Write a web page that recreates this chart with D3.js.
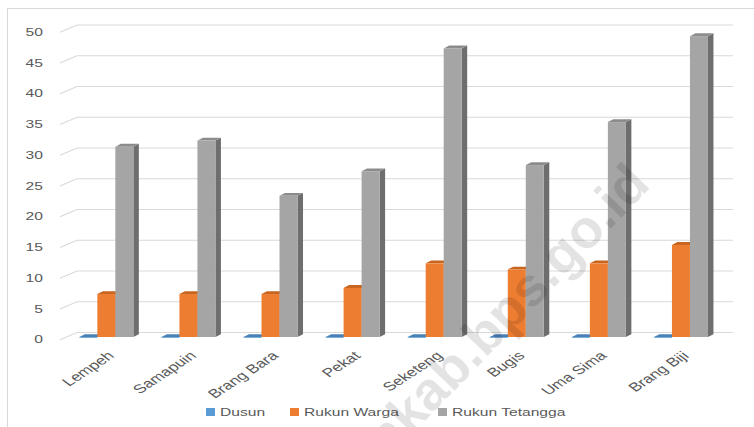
<!DOCTYPE html>
<html>
<head>
<meta charset="utf-8">
<script src="https://cdn.jsdelivr.net/npm/d3@7"></script>
<style>
  html, body { margin: 0; padding: 0; background: #fff; }
  svg { display: block; }
  text { font-family: "Liberation Sans", Arial, sans-serif; }
</style>
</head>
<body>
<svg id="chart" width="754" height="427"></svg>
<script>
// ---- data ----
const categories = ["Lempeh", "Samapuin", "Brang Bara", "Pekat", "Seketeng", "Bugis", "Uma Sima", "Brang Biji"];
const seriesNames = ["Dusun", "Rukun Warga", "Rukun Tetangga"];
const dusun = [0, 0, 0, 0, 0, 0, 0, 0];
const rukunWarga = [7, 7, 7, 8, 12, 11, 12, 15];
const rukunTetangga = [31, 32, 23, 27, 47, 28, 35, 49];
const yTicks = [0, 5, 10, 15, 20, 25, 30, 35, 40, 45, 50];

const seriesValues = [dusun, rukunWarga, rukunTetangga];
const colors = {
  "Dusun": { front: "#5B9BD5", side: "#3F6E99", top: "#4A80B8" },
  "Rukun Warga": { front: "#ED7D31", side: "#A9581F", top: "#C8651F" },
  "Rukun Tetangga": { front: "#A5A5A5", side: "#6E6E6E", top: "#8C8C8C" }
};

const svg = d3.select("#chart");
const SX = 1.42; // horizontal text stretch of the original picture

// border
svg.append("rect").attr("x", 7.5).attr("y", 8.5).attr("width", 780).attr("height", 440)
  .attr("fill", "none").attr("stroke", "#d9d9d9");

// scales
const yBack = d3.scaleLinear().domain([0, 50]).range([332.5, 25]);
const yFront = d3.scaleLinear().domain([0, 50]).range([337, 30]);
const x = d3.scaleBand().domain(categories).range([65.3, 722]).padding(0);
const xs = d3.scaleBand().domain(seriesNames).range([0, 54]).padding(0);
const depthX = 5.5, depthY = 2.8, diagX = 17, diagY = 7.3;

// gridlines (back wall + side wall slant)
const grid = svg.append("g");
yTicks.forEach(v => {
  const y = yBack(v);
  grid.append("path")
    .attr("d", `M60,${y + diagY}L${60 + diagX},${y}L733,${y}`)
    .attr("fill", "none").attr("stroke", "#d9d9d9").attr("stroke-width", 1.2);
  grid.append("text")
    .attr("transform", `translate(43,${y + diagY}) scale(${SX},1)`)
    .attr("text-anchor", "end").attr("dominant-baseline", "central")
    .attr("font-size", 11).attr("fill", "#595959")
    .text(v);
});

// bars
const bars = svg.append("g");
categories.forEach((c, ci) => {
  seriesNames.forEach((s, si) => {
    const v = seriesValues[si][ci];
    const w = xs.bandwidth();
    const x0 = x(c) + (x.bandwidth() - 54) / 2 + xs(s);
    const top = yFront(v), base = yFront(0);
    const col = colors[s];
    bars.append("path")
      .attr("d", `M${x0 + w},${top}L${x0 + w + depthX},${top - depthY}L${x0 + w + depthX},${base - depthY}L${x0 + w},${base}Z`)
      .attr("fill", col.side);
    bars.append("path")
      .attr("d", `M${x0},${top}L${x0 + depthX},${top - depthY}L${x0 + w + depthX},${top - depthY}L${x0 + w},${top}Z`)
      .attr("fill", col.top);
    bars.append("rect")
      .attr("x", x0).attr("y", top).attr("width", w).attr("height", Math.max(base - top, 0.8))
      .attr("fill", col.front);
  });
});

// category labels
categories.forEach(c => {
  const cx = x(c) + x.bandwidth() / 2;
  svg.append("text")
    .attr("transform", `translate(${cx},350) scale(${SX},1) rotate(-43)`)
    .attr("text-anchor", "end").attr("dominant-baseline", "hanging")
    .attr("font-size", 12.3).attr("fill", "#595959")
    .text(c);
});

// legend
const legendX = [206, 290, 438];
seriesNames.forEach((s, i) => {
  svg.append("rect").attr("x", legendX[i]).attr("y", 408).attr("width", 9).attr("height", 8)
    .attr("fill", colors[s].front);
  svg.append("text")
    .attr("transform", `translate(${legendX[i] + 14},416) scale(${SX},1)`)
    .attr("font-size", 11).attr("fill", "#595959")
    .text(s);
});

// watermark
svg.append("text")
  .attr("transform", "translate(652,186) rotate(-46)")
  .attr("text-anchor", "end")
  .attr("font-size", 54).attr("font-weight", "bold")
  .attr("fill", "#000").attr("fill-opacity", 0.11)
  .text("sumbawakab.bps.go.id");
</script>
</body>
</html>
